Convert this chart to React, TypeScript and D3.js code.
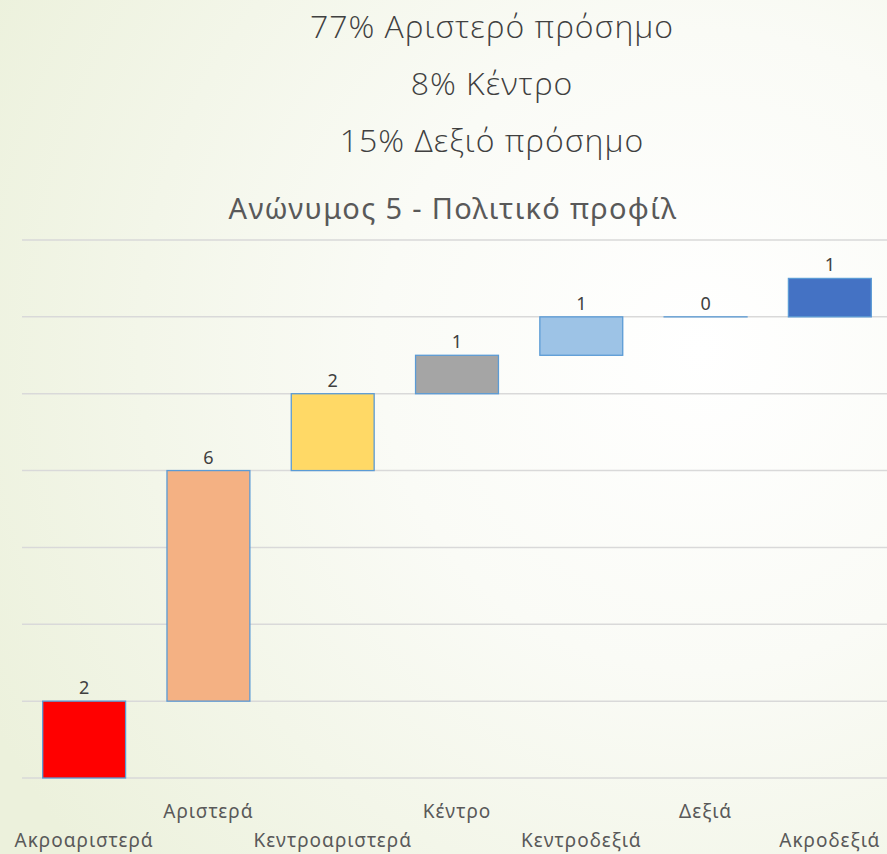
import React, { useRef, useEffect } from 'react';
import * as d3 from 'd3';

const categories = ['Ακροαριστερά', 'Αριστερά', 'Κεντροαριστερά', 'Κέντρο', 'Κεντροδεξιά', 'Δεξιά', 'Ακροδεξιά'];
const values = [2, 6, 2, 1, 1, 0, 1];
const barColors = ['#ff0000', '#f4b183', '#ffd966', '#a5a5a5', '#9dc3e6', '#9dc3e6', '#4472c4'];
const headerLines = ['77% Αριστερό πρόσημο', '8% Κέντρο', '15% Δεξιό πρόσημο'];
const chartTitle = 'Ανώνυμος 5 - Πολιτικό προφίλ';
const gridTicks = [0, 2, 4, 6, 8, 10, 12, 14];

const App: React.FC = () => {
  const ref = useRef<SVGSVGElement | null>(null);

  useEffect(() => {
    if (!ref.current) return;
    const width = 887;
    const height = 854;
    const svg = d3.select(ref.current);
    svg.selectAll('*').remove();
    svg.attr('width', width).attr('height', height);

    // background
    const defs = svg.append('defs');
    const grad = defs.append('radialGradient')
      .attr('id', 'bg')
      .attr('gradientUnits', 'userSpaceOnUse')
      .attr('cx', 700).attr('cy', 350).attr('r', 800);
    grad.append('stop').attr('offset', '0%').attr('stop-color', '#ffffff');
    grad.append('stop').attr('offset', '40%').attr('stop-color', '#fafbf6');
    grad.append('stop').attr('offset', '100%').attr('stop-color', '#ecf1dc');
    svg.append('rect').attr('width', width).attr('height', height).attr('fill', 'url(#bg)');

    // header lines
    svg.append('g').selectAll('text')
      .data(headerLines)
      .join('text')
      .attr('x', 492)
      .attr('y', (_, i) => 38 + i * 57)
      .attr('text-anchor', 'middle')
      .attr('font-family', '"Open Sans", "DejaVu Sans", sans-serif')
      .attr('font-weight', 300)
      .attr('font-size', 32)
      .attr('letter-spacing', 1)
      .attr('fill', '#404040')
      .text(d => d);

    svg.append('text')
      .attr('x', 453)
      .attr('y', 219)
      .attr('text-anchor', 'middle')
      .attr('font-family', '"Noto Sans", sans-serif')
      .attr('font-size', 29)
      .attr('letter-spacing', 1.3)
      .attr('fill', '#595959')
      .text(chartTitle);

    const x = d3.scaleBand<string>().domain(categories).range([22, 892]).paddingInner(0.333).paddingOuter(0.1665);
    const y = d3.scaleLinear().domain([0, 14]).range([778, 240]);

    svg.append('g').selectAll('line')
      .data(gridTicks)
      .join('line')
      .attr('x1', 22).attr('x2', width)
      .attr('y1', d => y(d)).attr('y2', d => y(d))
      .attr('stroke', '#d9d9d9')
      .attr('stroke-width', 1.5);

    const starts = values.map((_, i) => d3.sum(values.slice(0, i)));

    const bars = svg.append('g');
    bars.selectAll('rect')
      .data(values)
      .join('rect')
      .attr('x', (_, i) => x(categories[i])!)
      .attr('width', x.bandwidth())
      .attr('y', (d, i) => y(starts[i] + d))
      .attr('height', d => Math.max(0.01, y(0) - y(d)))
      .attr('fill', (_, i) => barColors[i])
      .attr('stroke', '#5b9bd5')
      .attr('stroke-width', 1.3);

    svg.append('g').selectAll('text')
      .data(values)
      .join('text')
      .attr('x', (_, i) => x(categories[i])! + x.bandwidth() / 2)
      .attr('y', (d, i) => y(starts[i] + d) - 7)
      .attr('text-anchor', 'middle')
      .attr('font-family', '"Noto Sans", sans-serif')
      .attr('font-size', 18)
      .attr('fill', '#404040')
      .text(d => d);

    svg.append('g').selectAll('text')
      .data(categories)
      .join('text')
      .attr('x', d => x(d)! + x.bandwidth() / 2)
      .attr('y', (_, i) => (i % 2 === 1 ? 818 : 847))
      .attr('text-anchor', 'middle')
      .attr('font-family', '"Noto Sans", sans-serif')
      .attr('font-size', 19)
      .attr('letter-spacing', 1)
      .attr('fill', '#595959')
      .text(d => d);
  }, []);

  return <svg ref={ref} style={{ position: 'absolute', left: 0, top: 0 }}></svg>;
};

export default App;
